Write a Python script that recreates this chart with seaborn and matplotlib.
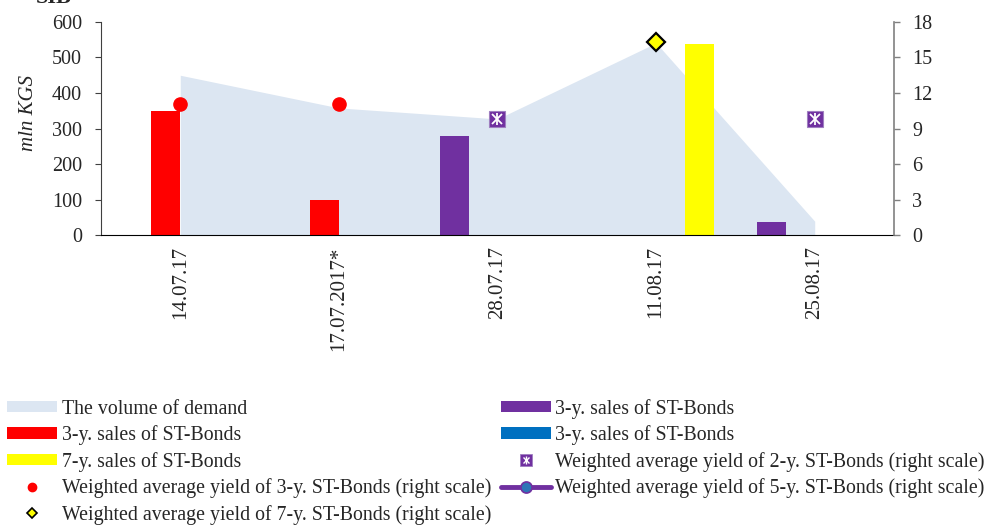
import matplotlib
matplotlib.use("Agg")
import matplotlib.pyplot as plt
import numpy as np
import pandas as pd
import seaborn as sns
from matplotlib.lines import Line2D
from matplotlib.patches import Patch

# Data
dates = ["14.07.17", "17.07.2017*", "28.07.17", "11.08.17", "25.08.17"]
demand = [450, 358, 327, 541, 39]
sales_3y_purple = [0, 0, 280, 0, 38]
sales_3y_red = [350, 100, 0, 0, 0]
sales_3y_blue = [0, 0, 0, 0, 0]
sales_7y_yellow = [0, 0, 0, 539, 0]
yield_3y = [11.1, 11.1, np.nan, np.nan, np.nan]
yield_2y = [np.nan, np.nan, 9.8, np.nan, 9.8]
yield_7y = [np.nan, np.nan, np.nan, 16.3, np.nan]

PURPLE = "#7030A0"
RED = "#FF0000"
BLUE = "#0070C0"
YELLOW = "#FFFF00"
AREA = "#DCE6F2"

sns.set_theme(style="white")
plt.rcParams["font.family"] = ["Liberation Serif", "DejaVu Serif"]

# long table for the grouped bars
series = {"p3": sales_3y_purple, "r3": sales_3y_red, "b3": sales_3y_blue, "y7": sales_7y_yellow}
df_bar = pd.DataFrame(
    [(d, k, v[i]) for k, v in series.items() for i, d in enumerate(dates)],
    columns=["date", "series", "value"],
)

fig = plt.figure(figsize=(9.86, 5.26), dpi=100)
ax = fig.add_axes([0.1024, 0.5532, 0.8043, 0.405])

x = np.arange(len(dates))
ax.fill_between(x, 0, demand, color=AREA, lw=0, zorder=0)

sns.barplot(
    data=df_bar, x="date", y="value", hue="series", order=dates,
    hue_order=["p3", "r3", "b3", "y7"],
    palette={"p3": PURPLE, "r3": RED, "b3": BLUE, "y7": YELLOW},
    width=0.73, linewidth=0, saturation=1, ax=ax, legend=False, zorder=2,
)

ax.set_xlim(-0.5, 4.5)
ax.set_ylim(0, 600)
ax.set_yticks(range(0, 601, 100))
ax.set_xticks(x)
ax.set_xticklabels(dates, rotation=90, fontsize=15)
ax.set_xticks(np.arange(-0.5, 5, 1), minor=True)
ax.tick_params(axis="x", which="major", length=0, pad=8)
ax.tick_params(axis="x", which="minor", length=5, width=0.8, color="#000000", direction="out")
ax.tick_params(axis="y", length=4, width=0.8, color="#404040", direction="out", labelsize=14.5, pad=9.5)
ax.set_xlabel("")
ax.set_ylabel("mln KGS", fontsize=15, style="italic")
ax.yaxis.set_label_coords(-0.0795, 0.573)
for s in ["top", "right"]:
    ax.spines[s].set_visible(False)
ax.spines["left"].set_color("#404040")
ax.spines["bottom"].set_color("#000000")
ax.spines["left"].set_linewidth(0.8)
ax.spines["bottom"].set_linewidth(0.8)

ax2 = ax.twinx()
ax2.set_ylim(0, 18)
ax2.set_yticks(range(0, 19, 3))
ax2.plot(x, yield_3y, ls="none", marker="o", ms=9.5, mfc=RED, mec=RED, zorder=5)
ax2.plot(x, yield_2y, ls="none", marker="s", ms=11, mfc=PURPLE, mec="#9f7fc0", mew=0.8, zorder=5)
ax2.plot(x, yield_2y, ls="none", marker="x", ms=7, mec="white", mew=1.3, zorder=6)
ax2.plot(x, yield_2y, ls="none", marker="|", ms=8, mec="white", mew=1.3, zorder=6)
ax2.plot(x, yield_7y, ls="none", marker="D", ms=9, mfc=YELLOW, mec="black", mew=1.6, zorder=5)
for s in ["top", "left", "bottom"]:
    ax2.spines[s].set_visible(False)
ax2.spines["right"].set_color("#808080")
ax2.spines["right"].set_linewidth(1.2)
ax2.tick_params(axis="y", length=4.5, width=1.0, color="#808080", direction="out", labelsize=14.5, pad=8.5)
ax2.grid(False)
ax.grid(False)

# cropped heading at the very top
fig.text(0.055, 0.995, "SIB", fontsize=16, fontweight="bold", ha="center", va="baseline")

# legend
h_demand = Patch(color=AREA, lw=0)
h_red = Patch(color=RED, lw=0)
h_yel = Patch(color=YELLOW, lw=0)
h_pur = Patch(color=PURPLE, lw=0)
h_blue = Patch(color=BLUE, lw=0)
h_y3 = Line2D([], [], ls="none", marker="o", ms=6, mfc=RED, mec=RED)
h_y7 = Line2D([], [], ls="none", marker="D", ms=5, mfc=YELLOW, mec="black", mew=1.2)
h_y2 = (
    Line2D([], [], ls="none", marker="s", ms=8, mfc=PURPLE, mec="#9f7fc0", mew=0.6),
    Line2D([], [], ls="none", marker="x", ms=5, mec="white", mew=1.0),
    Line2D([], [], ls="none", marker="|", ms=6, mec="white", mew=1.0),
)
h_y5 = Line2D([], [], color=PURPLE, lw=3.5, marker="o", ms=8, mfc="#2E75B6", mec=PURPLE, mew=1.2)

handles = [h_demand, h_red, h_yel, h_y3, h_y7, h_pur, h_blue, h_y2, h_y5]
labels = [
    "The volume of demand",
    "3-y. sales of ST-Bonds",
    "7-y. sales of ST-Bonds",
    "Weighted average yield of 3-y. ST-Bonds (right scale)",
    "Weighted average yield of 7-y. ST-Bonds (right scale)",
    "3-y. sales of ST-Bonds",
    "3-y. sales of ST-Bonds",
    "Weighted average yield of 2-y. ST-Bonds (right scale)",
    "Weighted average yield of 5-y. ST-Bonds (right scale)",
]
fig.legend(
    handles, labels, ncol=2, loc="upper left", bbox_to_anchor=(0.0, 0.255),
    frameon=False, fontsize=14.3, handlelength=2.5, handleheight=0.5,
    handletextpad=0.25, columnspacing=0.5, labelspacing=0.33, borderaxespad=0.15,
    borderpad=0.2,
)

fig.savefig("out.png", dpi=100)
